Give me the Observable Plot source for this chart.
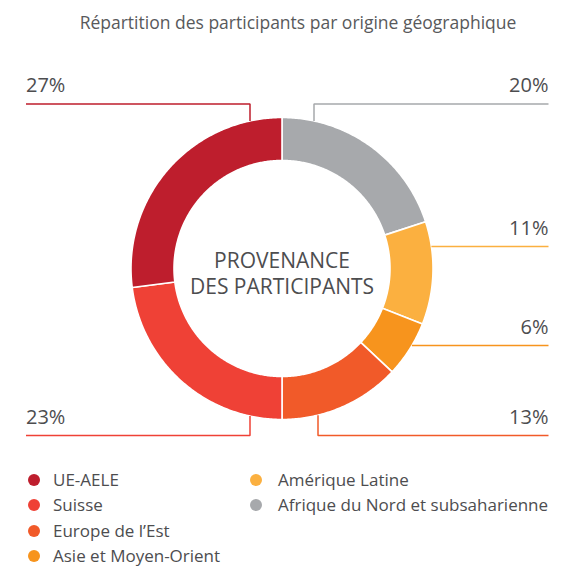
<!DOCTYPE html>
<html>
<head>
<meta charset="utf-8">
<script src="https://cdn.jsdelivr.net/npm/d3@7"></script>
<script src="https://cdn.jsdelivr.net/npm/@observablehq/plot@0.6"></script>
<style>
  body { margin: 0; background: #fff; font-family: "Open Sans", sans-serif; color: #4d4d4f; }
  #wrap { position: relative; width: 582px; height: 571px; overflow: hidden; }
  #chart { position: absolute; left: 0; top: 0; }
  #title { position: absolute; top: 11px; left: 14px; width: 568px; text-align: center; font-size: 17.5px; line-height: 22px; color: #58595b; white-space: nowrap; }
  .item { position: absolute; display: flex; align-items: center; height: 25px; font-size: 17px; line-height: 22px; color: #4d4d4f; white-space: nowrap; }
  .dot { width: 12px; height: 12px; border-radius: 50%; flex: none; }
</style>
</head>
<body>
<div id="wrap">
  <div id="chart"></div>
  <div id="title"></div>
  <div id="legend"></div>
</div>
<script>
// ---- data ----
const titleText = "Répartition des participants par origine géographique";
const centerLabel = "PROVENANCE\nDES PARTICIPANTS";
const categories = ["UE-AELE", "Suisse", "Europe de l’Est", "Asie et Moyen-Orient", "Amérique Latine", "Afrique du Nord et subsaharienne"];
const shares = [27, 23, 13, 6, 11, 20];
const shareLabels = ["27%", "23%", "13%", "6%", "11%", "20%"];
const colors = ["#be1e2d", "#ef4136", "#f15a29", "#f7941d", "#fbb040", "#a7a9ac"];

// ---- layout ----
const W = 582, H = 466;
const cx = 281.5, cy = 268, R = 151, Rin = 108;
const leaderLayout = {
  "UE-AELE": {side: "left", hy: 103.5, vx: 249.5},
  "Suisse": {side: "left", hy: 435, vx: 249.5},
  "Europe de l’Est": {side: "right", hy: 435, vx: 317.5},
  "Asie et Moyen-Orient": {side: "right", hy: 345},
  "Amérique Latine": {side: "right", hy: 246},
  "Afrique du Nord et subsaharienne": {side: "right", hy: 103.5, vx: 313.5}
};
const leftX = 25.5, rightX = 548;
const ux = px => (px - cx) / R;
const uy = py => (cy - py) / R;

document.getElementById("title").textContent = titleText;

const table = categories.map((c, i) => ({cat: c, share: shares[i], label: shareLabels[i], color: colors[i]}));

// clockwise from top: reversed legend order
const arcs = d3.pie().sort(null).value(d => d.share).startAngle(0).endAngle(2 * Math.PI)(table.slice().reverse());

const slicePts = [];
for (const a of arcs) {
  const n = Math.max(8, Math.ceil((a.endAngle - a.startAngle) / 0.01));
  const ri = Rin / R;
  for (let k = 0; k <= n; k++) {
    const t = a.startAngle + (a.endAngle - a.startAngle) * k / n;
    slicePts.push({cat: a.data.cat, x: Math.sin(t), y: Math.cos(t)});
  }
  for (let k = n; k >= 0; k--) {
    const t = a.startAngle + (a.endAngle - a.startAngle) * k / n;
    slicePts.push({cat: a.data.cat, x: ri * Math.sin(t), y: ri * Math.cos(t)});
  }
}

const leaderPts = [];
const labelPts = [];
for (const d of table) {
  const L = leaderLayout[d.cat];
  const ex = L.side === "left" ? leftX : rightX;
  const hy = uy(L.hy);
  leaderPts.push({cat: d.cat, x: ux(ex), y: hy});
  if (L.vx !== undefined) {
    const vx = ux(L.vx);
    const yArc = Math.sign(hy) * Math.sqrt(1 - vx * vx);
    leaderPts.push({cat: d.cat, x: vx, y: hy});
    leaderPts.push({cat: d.cat, x: vx, y: yArc});
  } else {
    const xArc = (L.side === "left" ? -1 : 1) * Math.sqrt(1 - hy * hy);
    leaderPts.push({cat: d.cat, x: xArc, y: hy});
  }
  labelPts.push({cat: d.cat, side: L.side, x: ux(ex), y: uy(L.hy - 12), text: d.label});
}

const chart = Plot.plot({
  width: W,
  height: H,
  margin: 0,
  style: {background: "transparent", fontFamily: "'Open Sans', sans-serif", overflow: "visible"},
  x: {domain: [-1, 1], range: [cx - R, cx + R], axis: null},
  y: {domain: [-1, 1], range: [cy + R, cy - R], axis: null},
  color: {domain: categories, range: colors},
  marks: [
    Plot.line(slicePts, {x: "x", y: "y", z: "cat", fill: "cat", stroke: "white", strokeWidth: 1.6, curve: "linear-closed"}),
    Plot.line(leaderPts, {x: "x", y: "y", z: "cat", stroke: "cat", strokeWidth: 1.5, strokeLinecap: "butt", strokeLinejoin: "miter"}),
    Plot.text(labelPts.filter(d => d.side === "left"), {x: "x", y: "y", text: "text", textAnchor: "start", lineAnchor: "bottom", fontSize: 20, fontWeight: 400, fill: "#4d4d4f"}),
    Plot.text(labelPts.filter(d => d.side === "right"), {x: "x", y: "y", text: "text", textAnchor: "end", lineAnchor: "bottom", fontSize: 20, fontWeight: 400, fill: "#4d4d4f"}),
    Plot.text([centerLabel], {x: () => 0, y: () => 0, text: d => d, fontSize: 21, fontWeight: 400, lineHeight: 1.23, lineAnchor: "middle", dy: 4, fill: "#4d4d4f"})
  ]
});
document.getElementById("chart").appendChild(chart);

// ---- legend ----
const legend = document.getElementById("legend");
const colLeft = [28, 250], textGap = [13, 16];
table.forEach((d, i) => {
  const col = Math.floor(i / 4), row = i % 4;
  const item = document.createElement("div");
  item.className = "item";
  item.style.left = colLeft[col] + "px";
  item.style.top = (467.5 + row * 25.3) + "px";
  const dot = document.createElement("span");
  dot.className = "dot";
  dot.style.background = d.color;
  dot.style.marginRight = textGap[col] + "px";
  const txt = document.createElement("span");
  txt.textContent = d.cat;
  item.appendChild(dot);
  item.appendChild(txt);
  legend.appendChild(item);
});
</script>
</body>
</html>
